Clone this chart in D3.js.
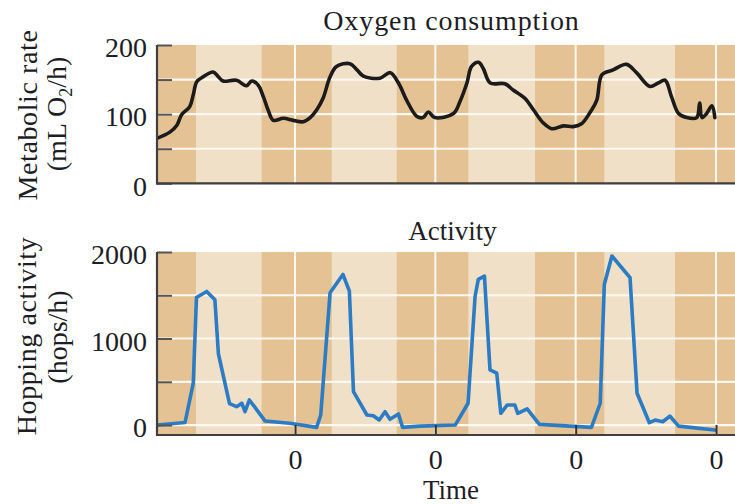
<!DOCTYPE html>
<html><head><meta charset="utf-8">
<script src="https://cdn.jsdelivr.net/npm/d3@7"></script>
<style>
body{margin:0;background:#fff}
text{font-family:'Liberation Serif','Times New Roman',serif;fill:#1d1d26}
</style>
</head><body><svg id="c" width="735" height="504"></svg>
<script>
// ---- data ----
const midnightHours = [24, 48, 72, 96];
const midnightLabels = ["0", "0", "0", "0"];
const lightStart = [7.07, 30.28, 53.64, 76.90];
const lightEnd   = [18.30, 41.39, 65.05, 88.99];

const oxyTime = [0.4,2.6,3.8,4.6,6.0,6.6,7.2,8.3,10.0,10.9,11.7,14.0,15.7,16.6,17.7,18.6,19.4,20.3,22.0,23.7,
  25.4,26.6,27.7,28.8,30.0,31.1,33.4,34.6,35.7,38.5,40.3,41.7,43.1,44.8,45.9,46.8,47.9,51.1,52.2,53.4,
  54.2,55.4,56.2,57.4,59.9,61.3,63.3,64.8,66.5,67.9,69.9,71.6,73.0,74.5,75.6,76.5,78.4,80.7,82.4,84.7,
  86.1,87.3,88.4,89.6,91.0,92.7,93.2,93.6,94.4,95.3,95.8];
const oxyValue = [65,74,84,99,111,128,147,154,161,154,148,149,141,148,142,125,106,91,94,91,
  89,95,106,123,154,169,173,164,155,152,160,145,120,97,95,103,95,101,118,145,
  169,175,166,145,144,135,123,106,87,79,83,82,86,103,120,157,164,172,160,140,
  145,149,125,101,95,95,116,95,101,112,95];

const actTime = [0.4,5.2,6.6,7.15,8.9,10.3,10.9,12.8,14.0,14.9,15.45,16.2,18.9,23.1,27.7,28.4,30.0,32.2,33.3,34.0,
  36.3,37.4,38.4,39.4,40.25,41.7,42.4,45.4,51.4,53.6,54.8,55.35,56.4,57.35,58.5,59.2,60.3,61.6,62.1,63.7,
  65.8,74.7,76.2,76.9,78.2,81.3,82.5,84.6,85.6,86.9,88.1,89.6,95.8];
const actValue = [0,30,484,1474,1544,1447,824,247,212,252,154,290,46,20,-27,116,1529,1741,1547,387,
  116,108,58,154,66,128,-27,-12,0,252,1489,1683,1721,638,600,136,232,232,136,186,
  8,-27,252,1625,1954,1703,368,27,58,38,104,-12,-58];

const oxyTicks = [0, 50, 100, 150, 200];
const oxyTickLabels = ["0", "", "100", "", "200"];
const actTicks = [0, 500, 1000, 1500, 2000];
const actTickLabels = ["0", "", "1000", "", "2000"];

// ---- drawing ----
const svg = d3.select("#c");
const X0 = 157, X1 = 735;
const x = d3.scaleLinear().domain([0.4, 99.25]).range([X0, X1]);

const DARK = "#e4c294", LIGHT = "#f1e0c8", GRID = "#fdf8f0";

const panels = [
  {id:"oxy", y: d3.scaleLinear().domain([0,200]).range([183.3,45]), top:45, bottom:183.3,
   time: oxyTime, value: oxyValue, ticks: oxyTicks, labels: oxyTickLabels, grid:[50,100,150],
   color:"#1b1b1b", curve: d3.curveCatmullRom.alpha(0.5), xticks:false},
  {id:"act", y: d3.scaleLinear().domain([-115,2000]).range([435,252]), top:252, bottom:435,
   time: actTime, value: actValue, ticks: actTicks, labels: actTickLabels, grid:[0,500,1000,1500],
   color:"#2b7cc4", curve: d3.curveLinear, xticks:true}
];

panels.forEach(p => {
  const defs = svg.append("defs");
  defs.append("clipPath").attr("id","clip-"+p.id).append("rect")
    .attr("x",X0).attr("y",p.top-4).attr("width",X1-X0).attr("height",p.bottom-p.top+8);
  const g = svg.append("g").attr("clip-path","url(#clip-"+p.id+")");
  g.append("rect").attr("x",X0).attr("y",p.top).attr("width",X1-X0).attr("height",p.bottom-p.top).attr("fill",DARK);
  g.selectAll("rect.light").data(d3.range(lightStart.length)).join("rect").attr("class","light")
    .attr("x", i => x(lightStart[i])).attr("width", i => x(lightEnd[i]) - x(lightStart[i]))
    .attr("y", p.top).attr("height", p.bottom - p.top).attr("fill", LIGHT);
  g.selectAll("line.hg").data(p.grid).join("line").attr("class","hg")
    .attr("x1",X0).attr("x2",X1).attr("y1",d=>p.y(d)).attr("y2",d=>p.y(d))
    .attr("stroke",GRID).attr("stroke-width",2.2);
  g.selectAll("line.vg").data(midnightHours).join("line").attr("class","vg")
    .attr("x1",d=>x(d)).attr("x2",d=>x(d)).attr("y1",p.top).attr("y2",p.bottom)
    .attr("stroke",GRID).attr("stroke-width",2);
  const line = d3.line().x((d,i)=>x(p.time[i])).y((d,i)=>p.y(p.value[i])).curve(p.curve);
  g.append("path").datum(p.value).attr("d",line).attr("fill","none")
    .attr("stroke",p.color).attr("stroke-width",3.6).attr("stroke-linejoin","round").attr("stroke-linecap","round");

  // left axis
  const ax = d3.axisLeft(p.y).tickValues(p.ticks).tickSizeInner(-15).tickSizeOuter(0).tickPadding(10)
    .tickFormat((d,i) => p.labels[i]);
  const ga = svg.append("g").attr("transform",`translate(${X0},0)`).call(ax);
  ga.select(".domain").remove();
  ga.selectAll(".tick line").attr("stroke","#555").attr("stroke-width",2);
  ga.selectAll(".tick text").attr("font-size",28).attr("font-family","'Liberation Serif',serif")
    .attr("fill","#1d1d26").attr("dy","0.42em");
  svg.append("line").attr("x1",X0).attr("x2",X0).attr("y1",p.top).attr("y2",p.bottom+1)
    .attr("stroke","#3f3f3f").attr("stroke-width",2.2);

  // bottom axis
  if (p.xticks) {
    const bx = d3.axisBottom(x).tickValues(midnightHours).tickSizeInner(-10).tickSizeOuter(0).tickPadding(14)
      .tickFormat((d,i) => midnightLabels[i]);
    const gb = svg.append("g").attr("transform",`translate(0,${p.bottom})`).call(bx);
    gb.select(".domain").remove();
    gb.selectAll(".tick line").attr("stroke","#333").attr("stroke-width",2);
    gb.selectAll(".tick text").attr("font-size",28).attr("font-family","'Liberation Serif',serif").attr("fill","#1d1d26");
  }
  svg.append("line").attr("x1",X0-1).attr("x2",X1).attr("y1",p.bottom).attr("y2",p.bottom)
    .attr("stroke","#3f3f3f").attr("stroke-width",2.2);
});

// titles
svg.append("text").attr("x",451.5).attr("y",30).attr("text-anchor","middle")
  .attr("font-size",28).attr("letter-spacing","0.9px").text("Oxygen consumption");
svg.append("text").attr("x",452.5).attr("y",240).attr("text-anchor","middle")
  .attr("font-size",27).text("Activity");
svg.append("text").attr("x",451).attr("y",499).attr("text-anchor","middle")
  .attr("font-size",27).text("Time");

// y axis titles
svg.append("text").attr("transform","translate(37,115) rotate(-90)").attr("text-anchor","middle")
  .attr("font-size",28).attr("letter-spacing","0.6px").text("Metabolic rate");
const t2 = svg.append("text").attr("transform","translate(66,114) rotate(-90)").attr("text-anchor","middle")
  .attr("font-size",28);
t2.append("tspan").text("(mL O");
t2.append("tspan").attr("font-size",18).attr("dy",6).text("2");
t2.append("tspan").attr("dy",-6).text("/h)");
svg.append("text").attr("transform","translate(36,336) rotate(-90)").attr("text-anchor","middle")
  .attr("font-size",28).attr("letter-spacing","0.6px").text("Hopping activity");
svg.append("text").attr("transform","translate(67,337) rotate(-90)").attr("text-anchor","middle")
  .attr("font-size",28).text("(hops/h)");
</script>
</body></html>
